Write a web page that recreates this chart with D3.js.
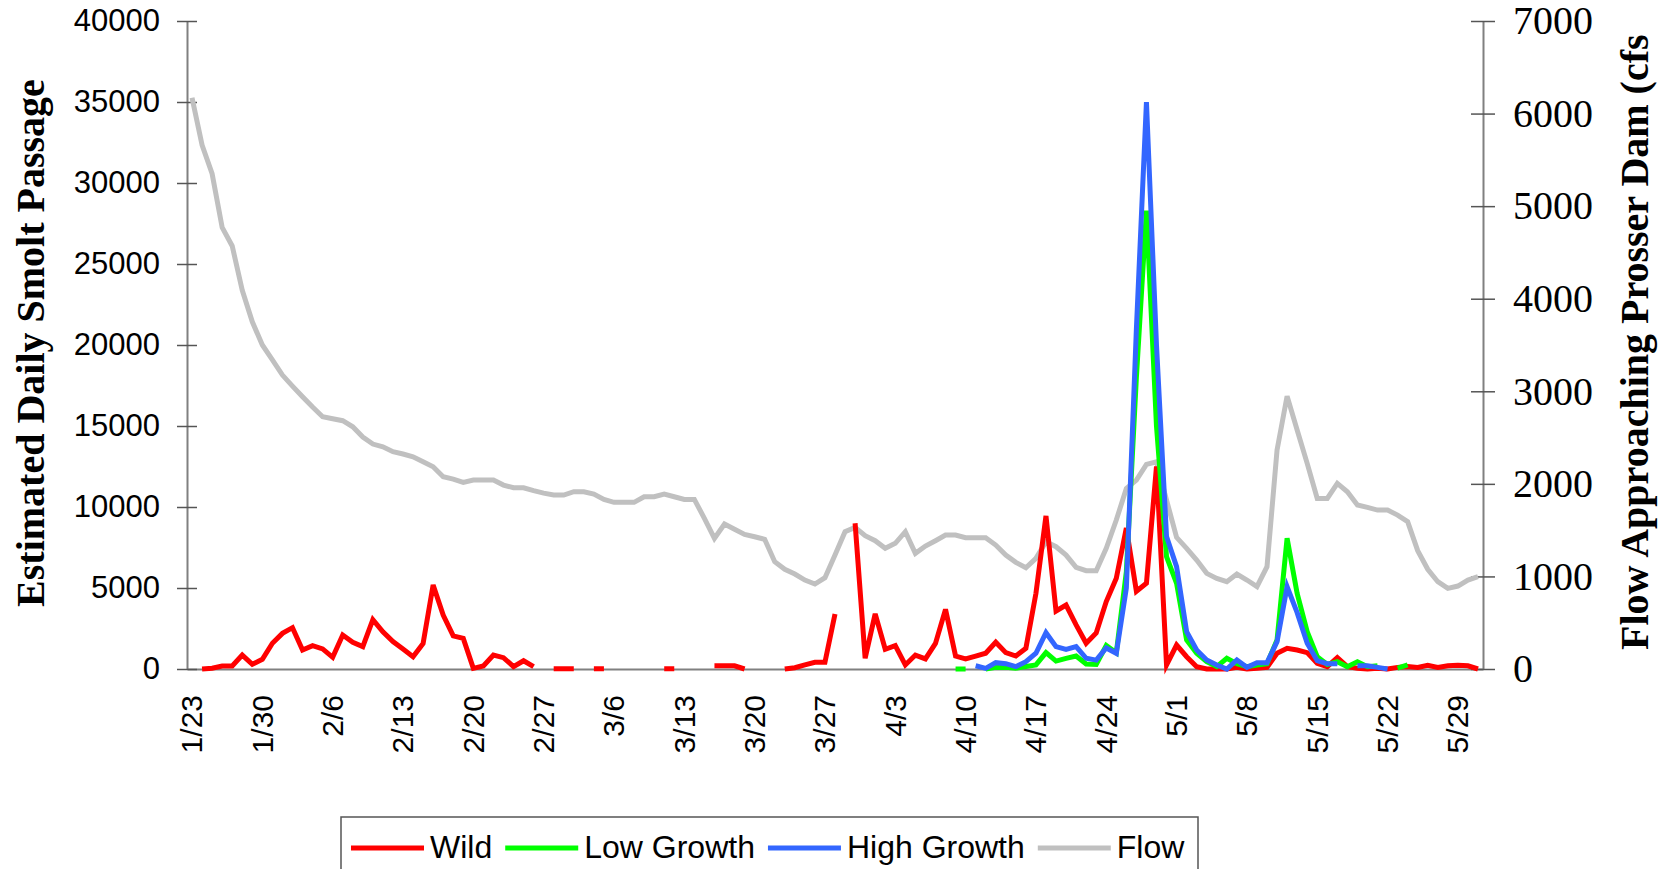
<!DOCTYPE html>
<html><head><meta charset="utf-8">
<script src="https://cdn.jsdelivr.net/npm/d3@7"></script>
<style>body{margin:0;background:#fff;overflow:hidden} svg{display:block}</style>
</head><body>
<svg id="chart" width="1667" height="869"></svg>
<script>
const dates = [
"1/23","1/24","1/25","1/26","1/27","1/28","1/29","1/30","1/31",
"2/1","2/2","2/3","2/4","2/5","2/6","2/7","2/8","2/9","2/10","2/11","2/12","2/13","2/14","2/15","2/16","2/17","2/18","2/19","2/20","2/21","2/22","2/23","2/24","2/25","2/26","2/27","2/28",
"3/1","3/2","3/3","3/4","3/5","3/6","3/7","3/8","3/9","3/10","3/11","3/12","3/13","3/14","3/15","3/16","3/17","3/18","3/19","3/20","3/21","3/22","3/23","3/24","3/25","3/26","3/27","3/28","3/29","3/30","3/31",
"4/1","4/2","4/3","4/4","4/5","4/6","4/7","4/8","4/9","4/10","4/11","4/12","4/13","4/14","4/15","4/16","4/17","4/18","4/19","4/20","4/21","4/22","4/23","4/24","4/25","4/26","4/27","4/28","4/29","4/30",
"5/1","5/2","5/3","5/4","5/5","5/6","5/7","5/8","5/9","5/10","5/11","5/12","5/13","5/14","5/15","5/16","5/17","5/18","5/19","5/20","5/21","5/22","5/23","5/24","5/25","5/26","5/27","5/28","5/29","5/30","5/31"];

const xTickLabels = ["1/23","1/30","2/6","2/13","2/20","2/27","3/6","3/13","3/20","3/27","4/3","4/10","4/17","4/24","5/1","5/8","5/15","5/22","5/29"];
const leftTicks = [0,5000,10000,15000,20000,25000,30000,35000,40000];
const rightTicks = [0,1000,2000,3000,4000,5000,6000,7000];

// Wild (null = no data)
const wild = [
null,0,50,185,185,860,290,600,1590,2200,2550,1170,1440,1240,720,2100,1650,1380,3050,2300,
1690,1230,760,1580,5190,3330,2040,1890,40,185,860,700,145,510,145,null,20,20,20,null,
20,20,null,null,null,null,null,20,20,null,null,null,200,200,200,0,null,null,null,0,
80,250,410,410,3400,null,9000,660,3400,1220,1440,250,860,620,1580,3680,800,620,800,970,
1650,1010,800,1280,4670,9450,3580,3950,2720,1590,2220,4160,5600,8700,4800,5300,12500,250,1480,760,
145,0,0,0,100,0,50,100,970,1280,1170,1010,350,145,700,145,50,0,50,0,
100,150,100,230,100,200,230,200,0];

const lowGrowth = [
null,null,null,null,null,null,null,null,null,null,null,null,null,null,null,null,null,null,null,null,
null,null,null,null,null,null,null,null,null,null,null,null,null,null,null,null,null,null,null,null,
null,null,null,null,null,null,null,null,null,null,null,null,null,null,null,null,null,null,null,null,
null,null,null,null,null,null,null,null,null,null,null,null,null,null,null,null,0,0,null,0,
100,100,50,150,250,1010,490,660,800,310,280,1450,1000,6000,18000,28300,15000,6930,5290,1790,
970,450,145,660,330,145,250,330,1790,8070,4670,2300,760,280,450,145,450,145,200,null,
50,250,null,null,null,null,null,null,null];

const highGrowth = [
null,null,null,null,null,null,null,null,null,null,null,null,null,null,null,null,null,null,null,null,
null,null,null,null,null,null,null,null,null,null,null,null,null,null,null,null,null,null,null,null,
null,null,null,null,null,null,null,null,null,null,null,null,null,null,null,null,null,null,null,null,
null,null,null,null,null,null,null,null,null,null,null,null,null,null,null,null,null,null,200,40,
390,330,145,450,970,2240,1380,1210,1380,660,550,1300,970,5000,21000,35000,20000,8170,6320,2300,
1170,555,250,0,555,100,390,390,1690,5080,3480,1590,510,330,330,null,200,200,100,0,
null,null,null,null,null,null,null,null,null];

const flow = [
6170,5660,5350,4770,4570,4090,3750,3500,3340,3175,3056,2941,2830,2725,2703,2682,2617,2505,2430,2401,
2347,2322,2293,2239,2185,2077,2052,2016,2041,2041,2041,1987,1958,1958,1926,1900,1879,1879,1915,1915,
1890,1832,1800,1800,1800,1861,1861,1890,1861,1832,1832,1627,1411,1566,1509,1454,1429,1401,1159,1077,
1026,961,918,986,1231,1483,1530,1440,1386,1304,1358,1483,1249,1328,1386,1447,1447,1418,1418,1418,
1339,1231,1152,1094,1195,1375,1321,1231,1098,1062,1062,1304,1609,1951,2041,2210,2239,1825,1422,1304,
1177,1033,979,943,1026,961,889,1105,2365,2948,2581,2221,1843,1843,2005,1915,1771,1746,1717,1717,
1663,1591,1278,1077,943,871,896,961,997];

const seriesNames = ["Wild","Low Growth","High Growth","Flow"];
const seriesColors = ["#ff0000","#00ff00","#3366ff","#c0c0c0"];

const svg = d3.select("#chart");
const X0 = 187, X1 = 1483, Y0 = 669, Y1 = 21;
const x = d3.scalePoint().domain(dates).range([X0, X1]).padding(0.5);
const yL = d3.scaleLinear().domain([0, 40000]).range([Y0, Y1]);
const yR = d3.scaleLinear().domain([0, 7000]).range([Y0, Y1]);

const sans = "'Liberation Sans', Arial, sans-serif";
const serif = "'Liberation Serif', 'Times New Roman', serif";
const axisCol = "#808080";

// X axis
const gx = svg.append("g").attr("transform", `translate(0,${Y0})`)
  .call(d3.axisBottom(x).tickValues(xTickLabels).tickSize(0).tickSizeOuter(0));
gx.select(".domain").attr("stroke", axisCol).attr("stroke-width", 2);
gx.selectAll(".tick text")
  .attr("transform", "rotate(-90)").attr("text-anchor", "end")
  .attr("x", -26).attr("y", 0).attr("dy", "0.33em")
  .style("font-family", sans).style("font-size", "30px").attr("fill", "#000");

// Left axis
const gl = svg.append("g").attr("transform", `translate(${X0},0)`)
  .call(d3.axisLeft(yL).tickValues(leftTicks).tickSize(10).tickSizeOuter(0).tickPadding(17).tickFormat(d3.format("d")));
gl.select(".domain").attr("stroke", axisCol).attr("stroke-width", 2);
gl.selectAll(".tick line").attr("x1", 10).attr("stroke", "#555").attr("stroke-width", 1.5);
gl.selectAll(".tick text").style("font-family", sans).style("font-size", "31px").attr("fill", "#000");

// Right axis
const gr = svg.append("g").attr("transform", `translate(${X1},0)`)
  .call(d3.axisRight(yR).tickValues(rightTicks).tickSize(12).tickSizeOuter(0).tickPadding(18).tickFormat(d3.format("d")));
gr.select(".domain").attr("stroke", axisCol).attr("stroke-width", 2);
gr.selectAll(".tick line").attr("x1", -12).attr("stroke", "#555").attr("stroke-width", 1.5);
gr.selectAll(".tick text").style("font-family", serif).style("font-size", "40px").attr("fill", "#000");

// Axis titles
svg.append("text").attr("transform", "translate(44,343) rotate(-90)")
  .attr("text-anchor", "middle").style("font-family", serif).style("font-size", "40px")
  .style("font-weight", "bold").text("Estimated Daily Smolt Passage");
svg.append("text").attr("transform", "translate(1648,650) rotate(-90)")
  .attr("text-anchor", "start").style("font-family", serif).style("font-size", "40px")
  .style("font-weight", "bold").text("Flow Approaching Prosser Dam (cfs");

// Lines
const lineL = d3.line().defined(d => d[1] != null).x(d => x(d[0])).y(d => yL(d[1]));
const lineR = d3.line().defined(d => d[1] != null).x(d => x(d[0])).y(d => yR(d[1]));
const pairs = arr => dates.map((d, i) => [d, arr[i]]);

const plot = svg.append("g").attr("fill", "none").attr("stroke-width", 5);
plot.append("path").attr("d", lineR(pairs(flow))).attr("stroke", seriesColors[3]);
plot.append("path").attr("d", lineL(pairs(wild))).attr("stroke", seriesColors[0]);
plot.append("path").attr("d", lineL(pairs(lowGrowth))).attr("stroke", seriesColors[1]);
plot.append("path").attr("d", lineL(pairs(highGrowth))).attr("stroke", seriesColors[2]);

// Legend
const lg = svg.append("g");
lg.append("rect").attr("x", 341).attr("y", 817).attr("width", 857).attr("height", 80)
  .attr("fill", "#fff").attr("stroke", "#555").attr("stroke-width", 1.5);
let lx = 351;
seriesNames.forEach((name, i) => {
  lg.append("line").attr("x1", lx).attr("x2", lx + 73).attr("y1", 848).attr("y2", 848)
    .attr("stroke", seriesColors[i]).attr("stroke-width", 5);
  const t = lg.append("text").attr("x", lx + 79).attr("y", 858)
    .style("font-family", sans).style("font-size", "32px").text(name);
  lx = lx + 79 + t.node().getComputedTextLength() + 13;
});
</script>
</body></html>
